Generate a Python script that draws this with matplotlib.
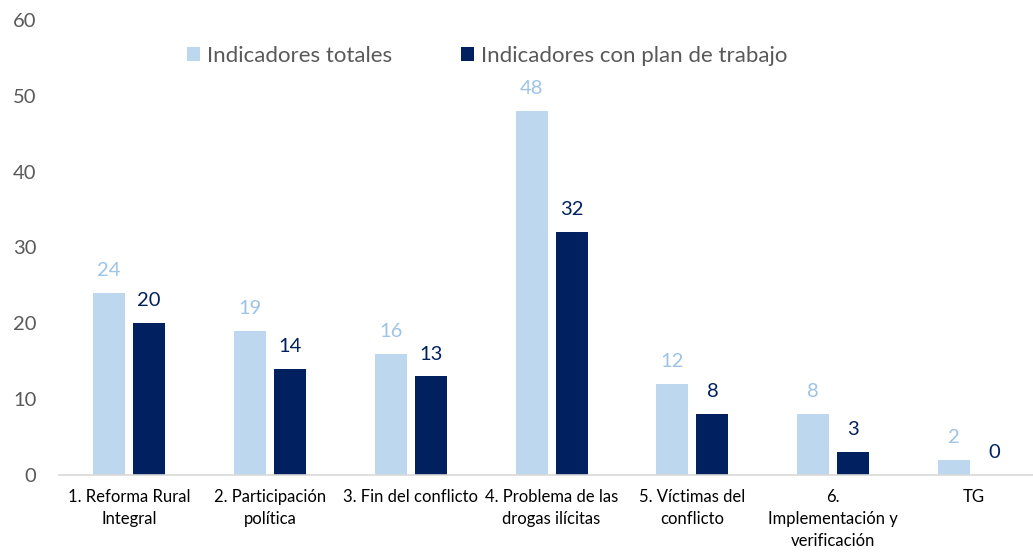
import numpy as np
import matplotlib
matplotlib.use("Agg")
import matplotlib.pyplot as plt

categorias = ["1. Reforma Rural\nIntegral", "2. Participación\npolítica",
              "3. Fin del conflicto", "4. Problema de las\ndrogas ilícitas",
              "5. Víctimas del\nconflicto", "6.\nImplementación y\nverificación", "TG"]
totales = [24, 19, 16, 48, 12, 8, 2]
con_plan = [20, 14, 13, 32, 8, 3, 0]

c_light = "#BDD7EE"
c_dark = "#002060"
c_light_lbl = "#9DC3E6"

plt.rcParams['font.family'] = ['Lato', 'DejaVu Sans']

fig = plt.figure(figsize=(10.33, 5.52), dpi=100)
ax = fig.add_axes([0.0567, 0.1395, 0.9545, 0.8243])

x = np.arange(len(categorias))
w = 0.228
off = 0.142
ax.bar(x - off, totales, w, color=c_light, label="Indicadores totales")
ax.bar(x + off, con_plan, w, color=c_dark, label="Indicadores con plan de trabajo")

for xi, v in zip(x, totales):
    ax.annotate(str(v), (xi - off, v), xytext=(0, 10), textcoords="offset points",
                ha="center", va="bottom", fontsize=14.5, color=c_light_lbl)
for xi, v in zip(x, con_plan):
    ax.annotate(str(v), (xi + off, v), xytext=(0, 10), textcoords="offset points",
                ha="center", va="bottom", fontsize=14.5, color=c_dark)

ax.set_xlim(-0.5, len(categorias) - 0.5)
ax.set_ylim(0, 60)
ax.set_yticks(range(0, 61, 10))
ax.set_xticks(x)
ax.set_xticklabels(categorias, fontsize=12, color="#000000", linespacing=1.45)
ax.tick_params(axis="y", labelsize=14.5, labelcolor="#595959", length=0, pad=16)
ax.tick_params(axis="x", length=0, pad=10)

for s in ["top", "right", "left"]:
    ax.spines[s].set_visible(False)
ax.spines["bottom"].set_color("#D9D9D9")
ax.spines["bottom"].set_linewidth(1.2)

ax.legend(loc="center left", bbox_to_anchor=(0.13, 0.921), ncol=2, frameon=False,
          fontsize=16, handlelength=0.6, handleheight=0.6, handletextpad=0.3,
          columnspacing=3.1, borderaxespad=0, borderpad=0, labelcolor="#595959")

fig.savefig("out.png", dpi=100)
